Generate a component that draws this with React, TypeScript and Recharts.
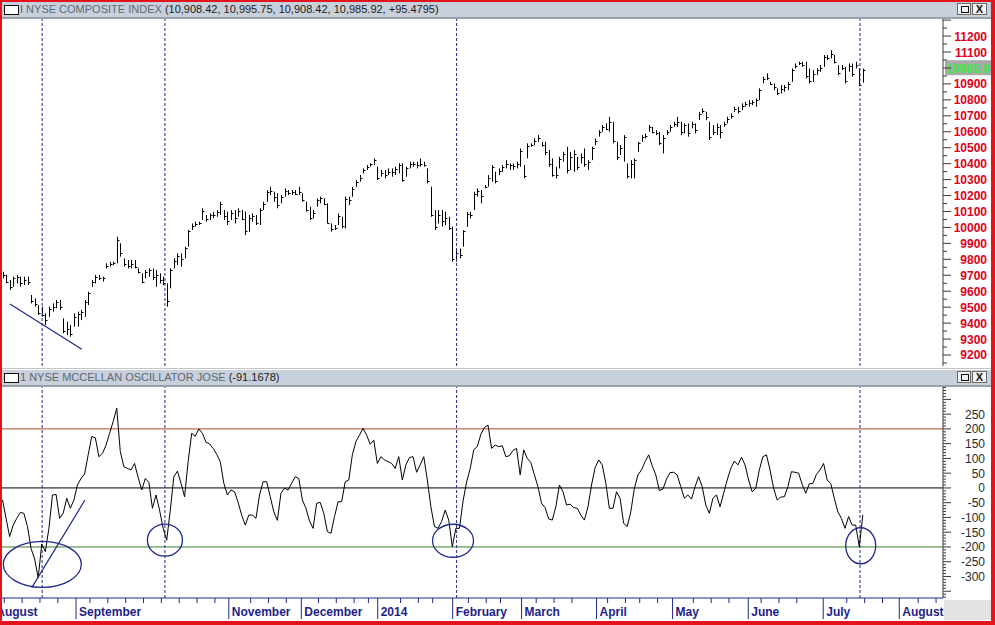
import React from 'react'
import { ComposedChart, Bar, Line, XAxis, YAxis, ReferenceLine, ReferenceDot } from 'recharts'

// NYSE Composite, daily bars Aug 2 2013 .. Jul 18 2014 (index = trading day)
const highs = [
  9722, 9702, 9670, 9691, 9702, 9691, 9691, 9691, 9576, 9555, 9513, 9503, 9461, 9503, 9524, 9545, 9545, 9430, 9409, 9388,
  9461, 9472, 9482, 9545, 9597, 9670, 9702, 9702, 9691, 9775, 9785, 9785, 9942, 9900, 9806, 9796, 9796, 9796, 9743, 9712,
  9733, 9743, 9743, 9733, 9712, 9691, 9649, 9743, 9806, 9837, 9837, 9879, 9984, 10025, 10036, 10036, 10120, 10078, 10088, 10099,
  10109, 10161, 10109, 10099, 10109, 10109, 10120, 10109, 10099, 10078, 10088, 10078, 10120, 10161, 10234, 10255, 10224, 10214, 10203, 10245,
  10234, 10234, 10234, 10255, 10214, 10161, 10130, 10109, 10182, 10193, 10182, 10151, 10025, 10015, 10088, 10067, 10193, 10193, 10255, 10297,
  10329, 10370, 10391, 10402, 10433, 10381, 10360, 10360, 10370, 10370, 10381, 10402, 10402, 10381, 10412, 10412, 10412, 10433, 10412, 10370,
  10255, 10109, 10109, 10109, 10099, 10067, 10005, 9865, 9868, 9983, 10098, 10098, 10224, 10245, 10234, 10266, 10328, 10391, 10349, 10370,
  10391, 10422, 10401, 10401, 10412, 10495, 10391, 10527, 10527, 10558, 10579, 10537, 10537, 10485, 10433, 10380, 10443, 10474, 10506, 10474,
  10485, 10443, 10464, 10495, 10422, 10506, 10558, 10610, 10642, 10652, 10694, 10663, 10537, 10516, 10579, 10401, 10422, 10433, 10537, 10579,
  10589, 10642, 10631, 10610, 10600, 10579, 10610, 10642, 10663, 10694, 10663, 10652, 10652, 10663, 10652, 10725, 10746, 10725, 10663, 10642,
  10652, 10642, 10663, 10694, 10715, 10757, 10757, 10778, 10788, 10798, 10798, 10809, 10872, 10945, 10966, 10913, 10903, 10872, 10893, 10893,
  10913, 10997, 11028, 11039, 11039, 11039, 10997, 10987, 10997, 11018, 11081, 11081, 11112, 11081, 11018, 11018, 11007, 11028, 11028, 11039,
  10997, 10996,
]
const lows = [
  9681, 9649, 9608, 9628, 9649, 9628, 9639, 9639, 9524, 9503, 9451, 9440, 9388, 9440, 9472, 9493, 9482, 9336, 9325, 9315,
  9378, 9378, 9419, 9440, 9513, 9628, 9649, 9670, 9660, 9743, 9754, 9764, 9775, 9817, 9754, 9743, 9743, 9743, 9712, 9649,
  9681, 9691, 9670, 9628, 9649, 9639, 9503, 9618, 9743, 9764, 9754, 9806, 9879, 9984, 10005, 10015, 10046, 10036, 10046, 10057,
  10067, 10078, 10046, 10015, 10046, 10025, 10067, 10046, 9952, 9973, 10036, 10015, 10015, 10109, 10161, 10203, 10161, 10120, 10151, 10193,
  10203, 10203, 10203, 10203, 10161, 10099, 10046, 10057, 10130, 10151, 10140, 10025, 9973, 9984, 10015, 9994, 9994, 10140, 10193, 10255,
  10287, 10339, 10360, 10381, 10391, 10297, 10318, 10308, 10329, 10318, 10329, 10339, 10287, 10318, 10370, 10381, 10370, 10381, 10381, 10276,
  10067, 9984, 10025, 10005, 10015, 9984, 9785, 9785, 9806, 9879, 10004, 10057, 10109, 10193, 10151, 10245, 10255, 10286, 10276, 10328,
  10349, 10370, 10360, 10360, 10370, 10380, 10307, 10433, 10506, 10516, 10537, 10506, 10454, 10380, 10318, 10307, 10370, 10412, 10339, 10360,
  10349, 10360, 10401, 10380, 10360, 10422, 10516, 10569, 10600, 10610, 10600, 10527, 10422, 10454, 10412, 10307, 10307, 10307, 10474, 10537,
  10558, 10600, 10589, 10579, 10516, 10464, 10579, 10600, 10631, 10631, 10579, 10589, 10569, 10621, 10589, 10673, 10715, 10673, 10548, 10579,
  10579, 10558, 10631, 10652, 10683, 10725, 10715, 10736, 10757, 10757, 10767, 10757, 10798, 10903, 10924, 10893, 10861, 10830, 10840, 10851,
  10861, 10913, 10997, 11018, 11007, 10934, 10903, 10913, 10955, 10976, 11007, 11049, 11060, 11028, 10955, 10987, 10903, 10976, 10945, 10997,
  10885, 10908,
]
const closes = [
  9700, 9660, 9625, 9680, 9690, 9650, 9670, 9660, 9540, 9520, 9465, 9450, 9420, 9490, 9500, 9530, 9500, 9350, 9360, 9330,
  9440, 9460, 9470, 9530, 9590, 9660, 9690, 9680, 9685, 9760, 9770, 9780, 9920, 9840, 9770, 9760, 9770, 9750, 9720, 9660,
  9720, 9730, 9690, 9700, 9670, 9650, 9540, 9730, 9790, 9820, 9800, 9870, 9975, 10010, 10020, 10025, 10100, 10050, 10075, 10080,
  10095, 10150, 10070, 10040, 10090, 10060, 10100, 10050, 9980, 10060, 10070, 10030, 10110, 10150, 10220, 10230, 10190, 10140, 10190, 10230,
  10215, 10220, 10210, 10220, 10170, 10110, 10060, 10090, 10170, 10185, 10150, 10030, 9990, 9995, 10070, 10010, 10180, 10170, 10240, 10285,
  10310, 10360, 10380, 10395, 10420, 10310, 10340, 10330, 10350, 10345, 10365, 10390, 10300, 10370, 10400, 10395, 10390, 10400, 10390, 10290,
  10080, 10000, 10080, 10040, 10060, 9995, 9800, 9840, 9830, 9975, 10085, 10080, 10210, 10230, 10200, 10255, 10310, 10380, 10290, 10355,
  10380, 10400, 10390, 10385, 10400, 10480, 10320, 10510, 10515, 10540, 10560, 10520, 10470, 10400, 10330, 10330, 10430, 10460, 10360, 10440,
  10460, 10380, 10440, 10400, 10410, 10500, 10545, 10600, 10630, 10620, 10660, 10540, 10440, 10500, 10570, 10320, 10400, 10420, 10530, 10570,
  10575, 10630, 10600, 10590, 10530, 10560, 10600, 10630, 10650, 10660, 10600, 10640, 10590, 10650, 10610, 10710, 10730, 10690, 10570, 10600,
  10630, 10600, 10650, 10680, 10700, 10745, 10730, 10760, 10775, 10780, 10785, 10800, 10860, 10930, 10940, 10900, 10880, 10840, 10870, 10880,
  10900, 10990, 11015, 11030, 11020, 10950, 10920, 10960, 10985, 11000, 11070, 11065, 11090, 11040, 10970, 11000, 10920, 11010, 10960, 11020,
  10890, 10986,
]

// NYSE McClellan oscillator, same days
const mcclellan = [
  -40, -103, -165, -126, -103, -83, -86, -131, -205, -241, -305, -190, -216, -137, -24, -22, -103, -86, -35, -69,
  -41, 10, 32, 47, 112, 174, 170, 106, 117, 145, 185, 225, 270, 123, 72, 66, 61, 83, 35, -7,
  32, 19, -69, -24, -75, -137, -177, -75, 38, 57, 16, -30, 89, 185, 175, 200, 185, 155, 149, 134,
  114, 89, 16, -24, -7, -13, -49, -92, -126, -92, -92, -103, -24, 21, 21, -30, -81, -110, -18, -1,
  -7, 16, 38, 32, -41, -69, -112, -137, -52, -49, -86, -148, -154, -97, -47, -47, 21, 27, 112, 157,
  179, 202, 179, 148, 162, 83, 106, 95, 89, 83, 66, 106, 27, 78, 103, 106, 53, 78, 106, 27,
  -64, -131, -137, -114, -75, -109, -199, -137, -137, -45, 20, 65, 129, 140, 182, 205, 213, 134, 145, 140,
  143, 106, 109, 127, 134, 44, 129, 100, 86, 44, 4, -52, -67, -105, -109, -64, 10, -13, -58, -55,
  -67, -69, -92, -109, -64, 10, 69, 95, 78, 16, -69, -69, -13, -35, -120, -131, -81, -1, 44, 61,
  89, 112, 75, 44, -9, -4, 30, 52, 53, 44, 4, -35, -24, -38, 4, 38, 4, -58, -86, -35,
  -24, -64, -18, 27, 66, 91, 78, 104, 78, 27, -13, -1, 61, 106, 112, 61, -1, -41, -31, -30,
  4, 55, 53, 50, 12, -18, 14, 15, 46, 61, 83, 27, 15, -35, -81, -103, -137, -97, -126, -126,
  -199, -91,
]

const lastClose = 10985.92
const monthNames = ['August', 'September', 'November', 'December', '2014', 'February', 'March', 'April', 'May', 'June', 'July', 'August']
const monthStarts = [-2.6, 20.6, 63.4, 83.7, 105.1, 126.1, 145.4, 166.4, 187.7, 208.9, 229.9, 251.2]
const weekStarts = [
  0.5, 5.5, 10.5, 15.5, 24.5, 29.5, 34.5, 39.5, 44.5, 49.5, 54.5, 59.5, 69.5, 74.5, 79.5, 88.5, 93.5, 98.5, 102.5,
  111.5, 116.5, 120.5, 130.5, 135.5, 139.5, 149.5, 154.5, 159.5, 169.5, 174.5, 178.5, 183.5, 193.5, 198.5, 203.5,
  212.5, 217.5, 222.5, 236.5, 241.5, 246.5, 256.5, 261.5,
]
const markerDays = [11.1, 45.5, 127.2, 240.2]

const priceTicks: number[] = []
for (let v = 9150; v <= 11300; v += 50) priceTicks.push(v)
const oscTicks: number[] = []
for (let v = -370; v <= 340; v += 10) oscTicks.push(v)

const rows = highs.map((h, i) => ({
  i,
  high: h,
  low: lows[i],
  close: closes[i],
  range: [lows[i], h],
  osc: mcclellan[i],
}))

const X_DOMAIN: [number, number] = [-0.14, 263.45]
const NAVY = '#1f2a8c'
const AXIS_FONT = '"Liberation Sans", Arial, sans-serif'

const OhlcBar = (props: any) => {
  const { x, y, width, height, payload } = props
  const top = height < 0 ? y + height : y
  const h = Math.abs(height)
  const cx = Math.round(x + width / 2) + 0.5
  const span = payload.high - payload.low || 1
  const cy = Math.round(top + ((payload.high - payload.close) / span) * h) + 0.5
  return (
    <g>
      <line x1={cx} x2={cx} y1={top} y2={top + h} stroke="#000" strokeWidth={1} />
      <line x1={cx} x2={cx + 2} y1={cy} y2={cy} stroke="#000" strokeWidth={1} />
    </g>
  )
}

const PriceTick = (props: any) => {
  const { x, y, payload } = props
  const major = payload.value % 100 === 0
  // the last-price tag sits where the 11000 label would be
  const showLabel = major && payload.value <= 11200 && Math.abs(payload.value - lastClose) > 40
  return (
    <g>
      <line x1={x} x2={x + (major ? 8 : 4)} y1={y} y2={y} stroke="#3a3a3a" />
      {showLabel && (
        <text x={987} y={y} dy={4.5} textAnchor="end" fontSize={12} fontWeight="bold" fill="#e2001a" fontFamily={AXIS_FONT}>
          {payload.value}
        </text>
      )}
    </g>
  )
}

const OscTick = (props: any) => {
  const { x, y, payload } = props
  const major = payload.value % 50 === 0
  return (
    <g>
      <line x1={x} x2={x + (major ? 8 : 3)} y1={y} y2={y} stroke="#3a3a3a" />
      {major && payload.value >= -300 && payload.value <= 250 && (
        <text x={985} y={y} dy={4.5} textAnchor="end" fontSize={12} fill="#2a2a2a" fontFamily={AXIS_FONT}>
          {payload.value}
        </text>
      )}
    </g>
  )
}

const MonthTick = (props: any) => {
  const { x, y, payload } = props
  const k = monthStarts.indexOf(payload.value)
  if (k < 0) return <line x1={x} x2={x} y1={y} y2={y + 5} stroke={NAVY} />
  return (
    <g>
      <line x1={x} x2={x} y1={y} y2={y + 21} stroke={NAVY} />
      <text x={x + 3} y={y + 18} fontSize={12} fontWeight="bold" fill="#1e1e8a" fontFamily={AXIS_FONT}>
        {monthNames[k]}
      </text>
    </g>
  )
}

const LastTag = (props: any) => {
  const { viewBox } = props
  const left = viewBox.x + viewBox.width + 2
  return (
    <g>
      <rect x={left} y={viewBox.y - 10} width={52} height={15} fill="#a9a9a9" />
      <text x={left + 1} y={viewBox.y + 2.5} fontSize={12} fontWeight="bold" fill="#3ee83e" fontFamily={AXIS_FONT}>
        {lastClose.toFixed(1)}
      </text>
    </g>
  )
}

// hand drawn annotations on the oscillator: centre in data units, radii in px
const circles = [
  { x: 11.15, y: -259, rx: 39, ry: 23 },
  { x: 45.5, y: -177, rx: 17.5, ry: 16 },
  { x: 126.2, y: -179, rx: 20.5, ry: 16.5 },
  { x: 240.4, y: -196, rx: 15, ry: 18 },
]

const TitleBar = ({ top, name, values }: { top: number; name: string; values: string }) => (
  <div
    style={{
      position: 'absolute',
      left: 2,
      top,
      width: 989,
      height: 15,
      background: '#c8d0db',
      borderBottom: '2px solid #9aa1aa',
      fontFamily: AXIS_FONT,
      fontSize: 11,
      lineHeight: '15px',
      whiteSpace: 'nowrap',
    }}
  >
    <span style={{ position: 'absolute', left: 2, top: 3, width: 13, height: 8, background: '#fff', border: '1px solid #111' }} />
    <span style={{ position: 'absolute', left: 18, top: 0, color: '#5d6875' }}>
      {name} <span style={{ color: '#1a1a1a' }}>{values}</span>
    </span>
    <span style={{ position: 'absolute', left: 955, top: 1, width: 14, height: 12, background: '#f2f2f2', border: '1px solid #6a6a6a', boxSizing: 'border-box' }}>
      <span style={{ position: 'absolute', left: 3, top: 2, width: 6, height: 5, border: '1px solid #111' }} />
    </span>
    <span
      style={{
        position: 'absolute',
        left: 970,
        top: 1,
        width: 15,
        height: 12,
        background: '#f2f2f2',
        border: '1px solid #6a6a6a',
        boxSizing: 'border-box',
        fontSize: 11,
        fontWeight: 'bold',
        lineHeight: '10px',
        textAlign: 'center',
        color: '#111',
      }}
    >
      X
    </span>
  </div>
)

export default function App() {
  return (
    <div style={{ position: 'absolute', left: 0, top: 0, width: 995, height: 625, background: '#fff', overflow: 'hidden' }}>
      <TitleBar top={2} name="I NYSE COMPOSITE INDEX" values="(10,908.42, 10,995.75, 10,908.42, 10,985.92, +95.4795)" />

      {/* Price panel */}
      <div style={{ position: 'absolute', left: 0, top: 19 }}>
        <ComposedChart width={994} height={347} data={rows} margin={{ top: 0, right: 0, left: 2, bottom: 0 }}>
          <XAxis type="number" dataKey="i" domain={X_DOMAIN} allowDataOverflow hide />
          <YAxis
            orientation="right"
            type="number"
            width={51}
            domain={[9131, 11307]}
            allowDataOverflow
            ticks={priceTicks}
            interval={0}
            tick={<PriceTick />}
            tickLine={false}
            tickSize={0}
            tickMargin={0}
            axisLine={{ stroke: '#3a3a3a' }}
          />
          {markerDays.map((d) => (
            <ReferenceLine key={d} x={d} stroke={NAVY} strokeDasharray="3 2" />
          ))}
          <Bar dataKey="range" shape={<OhlcBar />} isAnimationActive={false} />
          <ReferenceLine
            segment={[{ x: 2.1, y: 9520 }, { x: 22.2, y: 9236 }]}
            stroke={NAVY}
            strokeWidth={1.2}
            ifOverflow="visible"
          />
          <ReferenceLine y={lastClose} stroke="none" label={<LastTag />} ifOverflow="visible" />
        </ComposedChart>
      </div>

      <div style={{ position: 'absolute', left: 2, top: 368, width: 989, height: 1, background: '#c4c4c4' }} />
      <TitleBar top={370} name="1 NYSE MCCELLAN OSCILLATOR JOSE" values="(-91.1678)" />

      {/* Oscillator panel */}
      <div style={{ position: 'absolute', left: 0, top: 387 }}>
        <ComposedChart width={994} height={233} data={rows} margin={{ top: 0, right: 0, left: 2, bottom: 0 }}>
          <XAxis
            type="number"
            dataKey="i"
            domain={X_DOMAIN}
            allowDataOverflow
            ticks={[...monthStarts, ...weekStarts]}
            interval={0}
            height={22}
            tick={<MonthTick />}
            tickLine={false}
            tickSize={0}
            tickMargin={0}
            axisLine={{ stroke: NAVY }}
          />
          <YAxis
            orientation="right"
            type="number"
            width={51}
            domain={[-373, 342]}
            allowDataOverflow
            ticks={oscTicks}
            interval={0}
            tick={<OscTick />}
            tickLine={false}
            tickSize={0}
            tickMargin={0}
            axisLine={{ stroke: '#3a3a3a' }}
          />
          <ReferenceLine y={200} stroke="#b8452e" />
          <ReferenceLine y={0} stroke="#000" />
          <ReferenceLine y={-200} stroke="#3f7a2e" />
          {markerDays.map((d) => (
            <ReferenceLine key={d} x={d} stroke={NAVY} strokeDasharray="3 2" />
          ))}
          <Line type="linear" dataKey="osc" stroke="#000" strokeWidth={1} dot={false} isAnimationActive={false} />
          <ReferenceLine
            segment={[{ x: 8.2, y: -338 }, { x: 23.1, y: -41 }]}
            stroke={NAVY}
            strokeWidth={1.2}
            ifOverflow="visible"
          />
          {circles.map((c) => (
            <ReferenceDot
              key={c.x}
              x={c.x}
              y={c.y}
              r={c.rx}
              ifOverflow="visible"
              shape={(p: any) => (
                <ellipse cx={p.cx} cy={p.cy} rx={c.rx} ry={c.ry} fill="none" stroke={NAVY} strokeWidth={1.3} />
              )}
            />
          ))}
        </ComposedChart>
      </div>

      <div style={{ position: 'absolute', left: 944, top: 600, width: 48, height: 20, background: '#e3e3e3' }} />
      <div
        style={{
          position: 'absolute',
          left: 0,
          top: 0,
          width: 995,
          height: 625,
          boxSizing: 'border-box',
          borderStyle: 'solid',
          borderColor: '#e3121b',
          borderWidth: '2px 4px 4px 2px',
          pointerEvents: 'none',
        }}
      />
    </div>
  )
}
